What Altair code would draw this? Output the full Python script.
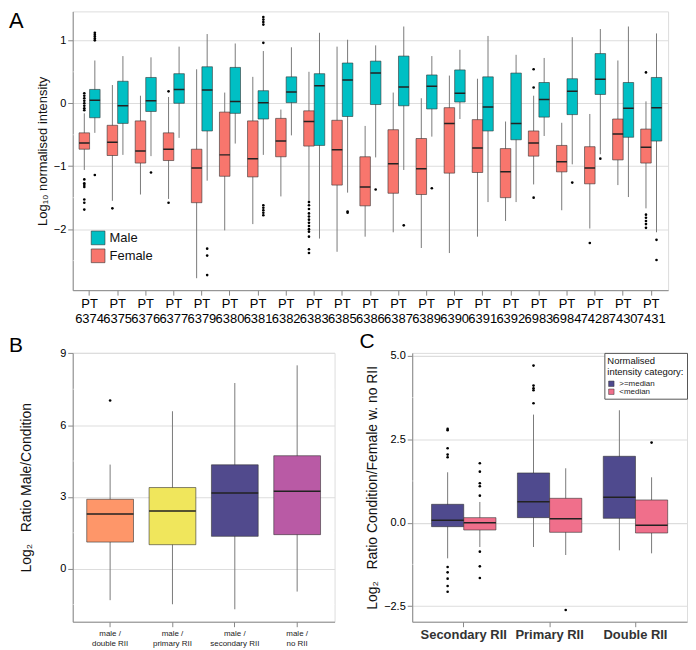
import altair as alt
import pandas as pd

FONT = "Liberation Sans"
PANEL_BG = "#EDEAE7"
BOX_LINE = "#333333"
WHISK = "#7a7a7a"

# ---------------- Panel A data ----------------
pt_ids = ["6374", "6375", "6376", "6377", "6379", "6380", "6381", "6382", "6383", "6385", "6386",
          "6387", "6389", "6390", "6391", "6392", "6983", "6984", "7428", "7430", "7431"]
sex_levels = ["Male", "Female"]
sex_colors = ["#00BFC4", "#F8766D"]
a_major = [-2, -1, 0, 1]
a_minor = [-2.5, -1.5, -0.5, 0.5]

fem_lo = [-1.06, -1.55, -1.45, -1.52, -2.78, -2.02, -1.92, -1.48, -1.55, -2.36, -2.12,
          -2.05, -2.30, -2.38, -2.12, -1.87, -1.29, -1.70, -1.99, -1.30, -1.67]
fem_q1 = [-0.73, -0.83, -0.95, -0.91, -1.58, -1.16, -1.17, -0.85, -0.68, -1.30, -1.63,
          -1.43, -1.45, -1.11, -1.10, -1.50, -0.84, -1.09, -1.28, -0.90, -0.95]
fem_med = [-0.63, -0.62, -0.76, -0.73, -1.03, -0.82, -0.88, -0.60, -0.29, -0.74, -1.33,
           -0.96, -1.04, -0.32, -0.71, -1.09, -0.63, -0.93, -1.03, -0.49, -0.70]
fem_q3 = [-0.47, -0.35, -0.28, -0.47, -0.73, -0.14, -0.28, -0.24, -0.12, -0.27, -0.85,
          -0.42, -0.56, -0.07, -0.26, -0.72, -0.44, -0.67, -0.69, -0.25, -0.41]
fem_hi = [-0.16, 0.29, 0.12, 0.10, 0.54, 0.17, 0.42, -0.10, 0.50, 0.90, -0.36,
          0.17, 0.08, 0.44, 0.39, -0.29, 0.12, -0.31, -0.17, 0.68, 0.03]

male_lo = [-0.47, -0.82, -0.84, -0.55, -1.23, -0.64, -0.82, -0.51, -2.15, -1.42, -0.86,
           -1.06, -0.53, -0.25, -1.57, -1.57, -0.52, -0.97, -0.81, -1.49, -2.05]
male_q1 = [-0.23, -0.32, -0.13, 0.00, -0.44, -0.16, -0.25, 0.01, -0.67, -0.21, -0.02,
           -0.04, -0.09, 0.02, -0.44, -0.58, -0.22, -0.18, 0.14, -0.54, -0.60]
male_med = [0.05, -0.04, 0.04, 0.22, 0.21, 0.03, 0.01, 0.18, 0.28, 0.37, 0.48,
            0.26, 0.27, 0.16, -0.06, -0.32, 0.06, 0.19, 0.38, -0.08, -0.07]
male_q3 = [0.22, 0.35, 0.41, 0.47, 0.58, 0.57, 0.20, 0.42, 0.47, 0.64, 0.67,
           0.75, 0.45, 0.53, 0.42, 0.48, 0.33, 0.39, 0.79, 0.33, 0.41]
male_hi = [0.68, 0.75, 0.73, 0.90, 1.10, 0.95, 0.83, 0.89, 1.12, 1.01, 0.92,
           1.22, 0.75, 0.85, 1.07, 0.77, 0.72, 1.05, 1.18, 1.22, 1.11]

fem_outliers = {
    "6374": [0.16, 0.12, 0.08, 0.04, 0.00, -0.04, -0.08, -0.11, -1.21, -1.27, -1.30, -1.33, -1.53, -1.58, -1.69],
    "6375": [-1.67],
    "6377": [0.19, -1.58],
    "6383": [-1.57, -1.62, -1.68, -1.75, -1.80, -1.85, -1.90, -1.95, -2.00, -2.04, -2.12, -2.32, -2.38],
    "6983": [0.54, 0.25, -1.50],
    "7428": [-2.22],
    "7431": [0.49, -1.77, -1.82, -1.87, -1.92, -1.98],
}
male_outliers = {
    "6374": [1.12, 1.09, 1.06, 1.03, 1.00, -1.14],
    "6376": [-1.10],
    "6379": [-2.31, -2.42, -2.73],
    "6381": [1.37, 1.33, 1.29, 1.25, 0.96, -1.62, -1.66, -1.70, -1.74, -1.78],
    "6385": [-1.72, -1.74],
    "6386": [-1.37],
    "6387": [-1.94],
    "6389": [-1.35],
    "6984": [-1.26],
    "7428": [-0.88],
    "7431": [-2.17, -2.49],
}

# ---------------- Panel B data ----------------
b_conds = ["male /|double RII", "male /|primary RII", "male /|secondary RII", "male /|no RII"]
b_colors = ["#FE9669", "#F0E65C", "#514A8D", "#B95AA5"]
b_major = [0, 3, 6, 9]
b_minor = [-1.5, 1.5, 4.5, 7.5]
b_lo = [-1.32, -1.49, -1.70, -0.96]
b_q1 = [1.11, 1.00, 1.35, 1.42]
b_med = [2.28, 2.41, 3.16, 3.23]
b_q3 = [2.90, 3.39, 4.34, 4.72]
b_hi = [4.35, 6.58, 7.76, 8.50]
b_outliers = {"male /|double RII": [7.03]}

# ---------------- Panel C data ----------------
c_groups = ["Secondary RII", "Primary RII", "Double RII"]
c_levels = [">=median", "<median"]
c_colors = ["#4F4A8E", "#F06F8B"]
c_major = [-2.5, 0, 2.5, 5]
c_minor = [-1.25, 1.25, 3.75]
c_hi_lo = [-1.07, -0.73, -0.83]
c_hi_q1 = [-0.12, 0.15, 0.13]
c_hi_med = [0.07, 0.63, 0.76]
c_hi_q3 = [0.55, 1.49, 1.99]
c_hi_hi = [1.51, 3.24, 3.37]
c_lo_lo = [-0.73, -0.97, -0.92]
c_lo_q1 = [-0.22, -0.29, -0.31]
c_lo_med = [0.00, 0.12, -0.08]
c_lo_q3 = [0.15, 0.73, 0.68]
c_lo_hi = [0.62, 1.63, 1.36]
c_hi_outliers = {"Secondary RII": [2.81, 2.77, 2.23, 2.04, 1.96, -1.33, -1.49, -1.68, -1.90, -2.07],
                 "Primary RII": [4.71, 4.11, 4.03, 3.97, 3.58]}
c_lo_outliers = {"Secondary RII": [1.78, 1.53, 1.18, 1.09, 0.81, -0.87, -1.31, -1.66],
                 "Primary RII": [-2.62],
                 "Double RII": [2.40]}

# ---------------- build tables ----------------
rowsA = []
for i, c in enumerate(pt_ids):
    lab = "PT " + c
    rowsA.append(dict(pt=lab, sex="Female", lo=fem_lo[i], q1=fem_q1[i], med=fem_med[i], q3=fem_q3[i], hi=fem_hi[i]))
    rowsA.append(dict(pt=lab, sex="Male", lo=male_lo[i], q1=male_q1[i], med=male_med[i], q3=male_q3[i], hi=male_hi[i]))
dfA = pd.DataFrame(rowsA)
outA = []
for c, vals in fem_outliers.items():
    outA += [dict(pt="PT " + c, sex="Female", v=v) for v in vals]
for c, vals in male_outliers.items():
    outA += [dict(pt="PT " + c, sex="Male", v=v) for v in vals]
dfAout = pd.DataFrame(outA)

dfB = pd.DataFrame(dict(cond=b_conds, lo=b_lo, q1=b_q1, med=b_med, q3=b_q3, hi=b_hi))
dfBout = pd.DataFrame([dict(cond=k, v=v) for k, vs in b_outliers.items() for v in vs])

rowsC = []
for i, g in enumerate(c_groups):
    rowsC.append(dict(grp=g, cat=">=median", lo=c_hi_lo[i], q1=c_hi_q1[i], med=c_hi_med[i], q3=c_hi_q3[i], hi=c_hi_hi[i]))
    rowsC.append(dict(grp=g, cat="<median", lo=c_lo_lo[i], q1=c_lo_q1[i], med=c_lo_med[i], q3=c_lo_q3[i], hi=c_lo_hi[i]))
dfC = pd.DataFrame(rowsC)
outC = [dict(grp=g, cat=">=median", v=v) for g, vs in c_hi_outliers.items() for v in vs]
outC += [dict(grp=g, cat="<median", v=v) for g, vs in c_lo_outliers.items() for v in vs]
dfCout = pd.DataFrame(outC)

# layout sizes
WA, HA = 598, 280
WB, HB = 263, 270
WC, HC = 276, 270
PAD_IN, PAD_OUT = 0.25, 0.225


def y_axis(values, title, title_size, fmt, title_pad=4):
    return alt.Axis(
        values=values, format=fmt, labelOverlap=False, gridWidth=1.1,
        title=title, titleFontSize=title_size, titleFontWeight="normal", titleColor="#111111",
        labelFontSize=11, titlePadding=title_pad, labelPadding=2,
    )


def letter(txt, x, y, size):
    return alt.Chart(pd.DataFrame({"t": [txt]})).mark_text(
        align="left", baseline="top", fontSize=size, font=FONT, color="black"
    ).encode(text="t:N", x=alt.value(x), y=alt.value(y))


def box_layers(df, dfo, minor_vals, x, xo, ysc, yax, color):
    enc_x = dict(x=x) if xo is None else dict(x=x, xOffset=xo)
    minor = alt.Chart(pd.DataFrame({"g": minor_vals})).mark_rule(color="white", strokeWidth=0.5).encode(
        y=alt.Y("g:Q", scale=ysc, axis=yax))
    whisk = alt.Chart(df).mark_rule(color=WHISK, strokeWidth=1).encode(
        y=alt.Y("lo:Q", scale=ysc, axis=yax), y2="hi:Q", **enc_x)
    box = alt.Chart(df).mark_bar(stroke=BOX_LINE, strokeWidth=0.6, opacity=1).encode(
        y=alt.Y("q1:Q", scale=ysc, axis=yax), y2="q3:Q", color=color, **enc_x)
    med = alt.Chart(df).mark_bar(fillOpacity=0, stroke="#222222", strokeWidth=1.5).encode(
        y=alt.Y("med:Q", scale=ysc, axis=yax), y2="med:Q", **enc_x)
    pts = alt.Chart(dfo).mark_circle(size=7, color="black", opacity=1).encode(
        y=alt.Y("v:Q", scale=ysc, axis=yax), **enc_x)
    return [minor, whisk, box, med, pts]


# ---------------- Panel A ----------------
xA = alt.X("pt:N", sort=["PT " + c for c in pt_ids],
           scale=alt.Scale(paddingInner=PAD_IN, paddingOuter=PAD_OUT),
           axis=alt.Axis(title=None, labelAngle=0, labelExpr="split(datum.label, ' ')",
                         labelFontSize=13, labelLineHeight=15, labelPadding=2, gridWidth=1.1))
xoA = alt.XOffset("sex:N", scale=alt.Scale(domain=["Female", "Male"], paddingInner=0, paddingOuter=0))
yScaleA = alt.Scale(domain=[-2.97, 1.46], nice=False, zero=False)
yAxA = y_axis(a_major, "Log₁₀ normalised intensity", 13, "d")
colA = alt.Color("sex:N", scale=alt.Scale(domain=sex_levels, range=sex_colors),
                 legend=alt.Legend(title=None, orient="none", legendX=18, legendY=220,
                                   symbolType="square", symbolSize=190, symbolStrokeColor=BOX_LINE,
                                   symbolStrokeWidth=0.6, symbolOpacity=1, labelFontSize=13,
                                   labelFont=FONT, labelColor="#111111", rowPadding=1))
panelA = alt.layer(*box_layers(dfA, dfAout, a_minor, xA, xoA, yScaleA, yAxA, colA),
                   letter("A", -64, 0, 22)).properties(width=WA, height=HA)

# ---------------- Panel B ----------------
xB = alt.X("cond:N", sort=b_conds, scale=alt.Scale(paddingInner=PAD_IN, paddingOuter=PAD_OUT),
           axis=alt.Axis(title=None, labelAngle=0, labelExpr="split(datum.label, '|')",
                         labelFontSize=8, labelLineHeight=10, labelColor="#222222", labelPadding=3,
                         gridWidth=1.1))
yScaleB = alt.Scale(domain=[-2.22, 9.02], nice=False, zero=False)
yAxB = y_axis(b_major, "Log₂\u00a0\u00a0\u00a0Ratio Male/Condition", 14, "d", title_pad=26)
colB = alt.Color("cond:N", scale=alt.Scale(domain=b_conds, range=b_colors), legend=None)
panelB = alt.layer(*box_layers(dfB, dfBout, b_minor, xB, None, yScaleB, yAxB, colB),
                   letter("B", -64, -18, 21)).properties(width=WB, height=HB)

# ---------------- Panel C ----------------
xC = alt.X("grp:N", sort=c_groups, scale=alt.Scale(paddingInner=PAD_IN, paddingOuter=PAD_OUT),
           axis=alt.Axis(title=None, labelAngle=0, labelFontSize=13, labelFontWeight="bold",
                         labelColor="#333333", labelPadding=2, gridWidth=1.1))
xoC = alt.XOffset("cat:N", scale=alt.Scale(domain=c_levels, paddingInner=0, paddingOuter=0))
yScaleC = alt.Scale(domain=[-2.97, 5.09], nice=False, zero=False)
yAxC = y_axis(c_major, "Log₂\u00a0\u00a0\u00a0Ratio Condition/Female w. no RII", 14, ".1f")
colC = alt.Color("cat:N", scale=alt.Scale(domain=c_levels, range=c_colors),
                 legend=alt.Legend(title=["Normalised", "intensity category:"], orient="top-right",
                                   offset=0, fillColor="white", strokeColor="#555555", padding=3,
                                   titleFontSize=9.5, titleFontWeight="normal", titleColor="#111111",
                                   titleFont=FONT, titlePadding=3, labelFontSize=8, labelFont=FONT,
                                   labelColor="#222222", symbolType="square", symbolSize=30,
                                   symbolStrokeColor=BOX_LINE, symbolStrokeWidth=0.5,
                                   symbolOpacity=1, rowPadding=0, cornerRadius=0))
panelC = alt.layer(*box_layers(dfC, dfCout, c_minor, xC, xoC, yScaleC, yAxC, colC),
                   letter("C", -53, -22, 21)).properties(width=WC, height=HC)

bottom = alt.hconcat(panelB, panelC, spacing=23).resolve_scale(color="independent", xOffset="independent")

chart = alt.vconcat(
    panelA, bottom, spacing=4,
).resolve_scale(color="independent", xOffset="independent").properties(padding=0).configure_view(
    stroke=None, fill=PANEL_BG
).configure_axis(
    domain=False, gridColor="white", tickColor="#333333", tickSize=3,
    labelColor="#4D4D4D", labelFont=FONT, titleFont=FONT,
).configure(font=FONT, background="white")

chart.save("out.html", embed_options={"renderer": "svg", "actions": False})
